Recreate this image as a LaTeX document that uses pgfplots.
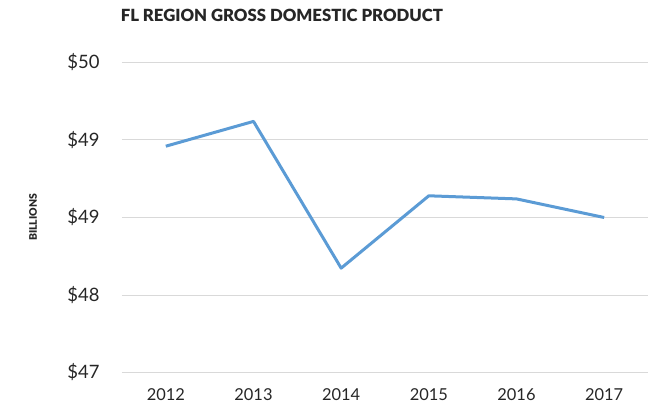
\documentclass[border=0pt]{standalone}
\usepackage{pgfplots}
\pgfplotsset{compat=1.18}
\usepackage{fontspec}
\setmainfont{Lato}[BoldFont={Lato Black}]
\definecolor{lineblue}{HTML}{5B9BD5}
\definecolor{gridgray}{HTML}{D9D9D9}
\definecolor{textdark}{HTML}{262626}
\begin{document}
\begin{tikzpicture}
\path[use as bounding box] (-122bp,-40.5bp) rectangle (545bp,372.5bp);
\begin{axis}[
  at={(0,0)}, anchor=south west,
  scale only axis,
  width=526bp, height=310bp,
  xmin=-0.5, xmax=5.5,
  ymin=47, ymax=50,
  xtick={0,1,2,3,4,5},
  xticklabels={2012,2013,2014,2015,2016,2017},
  ytick={47,47.75,48.5,49.25,50},
  yticklabels={\$47,\$48,\$49,\$49,\$50},
  axis line style={draw=none},
  major tick length=0pt,
  ymajorgrids,
  grid style={gridgray, line width=1bp},
  tick label style={text=textdark},
  yticklabel style={font=\fontsize{18.5}{21}\selectfont, xshift=-19bp},
  xticklabel style={font=\fontsize{16.5}{19}\selectfont, yshift=-13bp},
  title={\textbf{FL REGION GROSS DOMESTIC PRODUCT}},
  title style={at={(axis description cs:0.304,1.134)}, anchor=center, font=\fontsize{16.8}{19}\selectfont, text=textdark},
  ylabel={\textbf{BILLIONS}},
  ylabel style={at={(axis description cs:-0.169,0.5)}, anchor=center, font=\fontsize{10.5}{11}\selectfont, text=textdark},
  clip=false,
]
\addplot[lineblue, line width=3bp, line join=round] coordinates {
  (0,49.19) (1,49.43) (2,48.01) (3,48.71) (4,48.68) (5,48.50)
};
\end{axis}
\end{tikzpicture}
\end{document}
